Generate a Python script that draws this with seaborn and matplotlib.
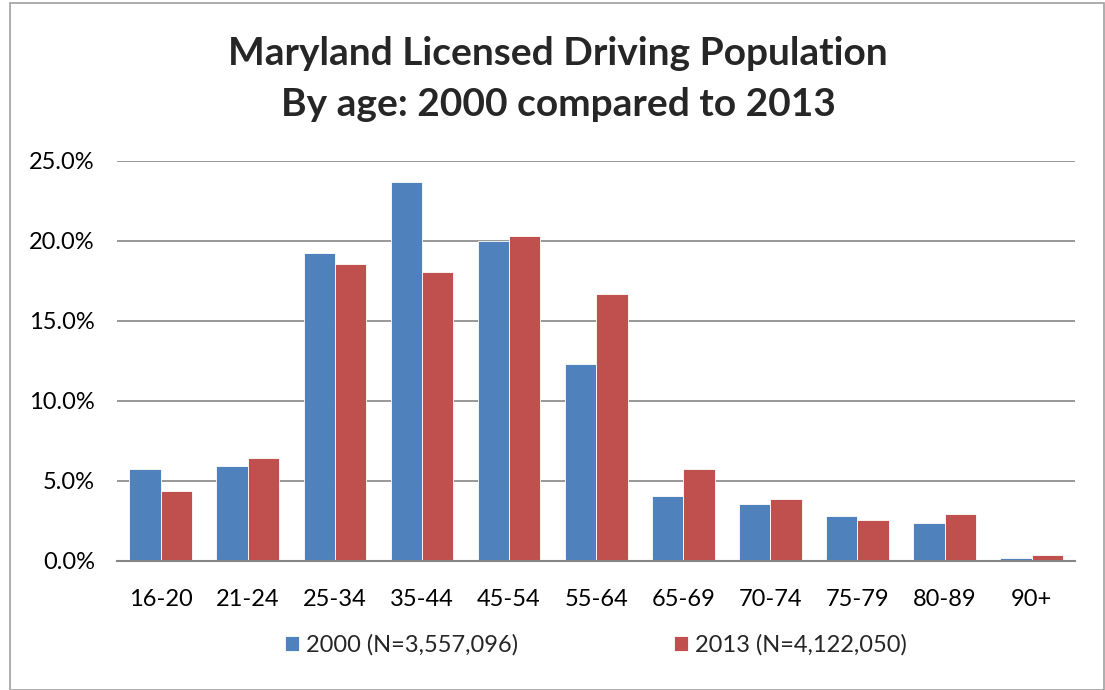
import pandas as pd
import matplotlib.pyplot as plt
import seaborn as sns
from matplotlib.ticker import PercentFormatter

# Age groups and share of licensed drivers (%)
ages = ["16-20", "21-24", "25-34", "35-44", "45-54", "55-64",
        "65-69", "70-74", "75-79", "80-89", "90+"]
share_2000 = [5.73, 5.96, 19.25, 23.7, 20.0, 12.3, 4.06, 3.59, 2.84, 2.36, 0.17]
share_2013 = [4.36, 6.42, 18.55, 18.05, 20.3, 16.7, 5.75, 3.86, 2.56, 2.92, 0.40]
series = ["2000 (N=3,557,096)", "2013 (N=4,122,050)"]

df = pd.DataFrame({
    "age": ages * 2,
    "share": share_2000 + share_2013,
    "series": [series[0]] * len(ages) + [series[1]] * len(ages),
})

sns.set_theme(style="white")
plt.rcParams['font.family'] = ['Lato', 'DejaVu Sans']

fig = plt.figure(figsize=(11.05, 6.9), dpi=100)
ax = fig.add_axes([0.106, 0.187, 0.867, 0.58])

sns.barplot(data=df, x="age", y="share", hue="series",
            palette=["#4F81BD", "#C0504D"], width=0.72, gap=0,
            saturation=1, edgecolor="white", linewidth=0.6, ax=ax)

ax.set_ylim(0, 25)
ax.set_yticks([0, 5, 10, 15, 20, 25])
ax.yaxis.set_major_formatter(PercentFormatter(decimals=1))
ax.grid(axis="y", color="#868686", linewidth=1.2)
ax.set_axisbelow(True)
for s in ["top", "right", "left"]:
    ax.spines[s].set_visible(False)
ax.spines["bottom"].set_color("#868686")
ax.spines["bottom"].set_linewidth(1.5)
ax.set_xlabel("")
ax.set_ylabel("")
ax.tick_params(axis="both", labelsize=17, colors="black", length=0)
ax.tick_params(axis="x", pad=20)
ax.tick_params(axis="y", pad=16)

ax.legend(loc="upper center", bbox_to_anchor=(0.5, -0.13), ncol=2,
          frameon=False, fontsize=17, handlelength=0.6, handleheight=0.6,
          handletextpad=0.3, columnspacing=6.6)

fig.text(0.505, 0.922, "Maryland Licensed Driving Population",
         ha="center", va="center", fontsize=28, fontweight="bold")
fig.text(0.505, 0.849, "By age: 2000 compared to 2013",
         ha="center", va="center", fontsize=28, fontweight="bold")

# chart border
fig.patches.append(plt.Rectangle((0.009, 0.0), 0.99, 0.995, transform=fig.transFigure,
                                 fill=False, edgecolor="#A0A0A0", linewidth=1.2))

fig.savefig("out.png", dpi=100)
